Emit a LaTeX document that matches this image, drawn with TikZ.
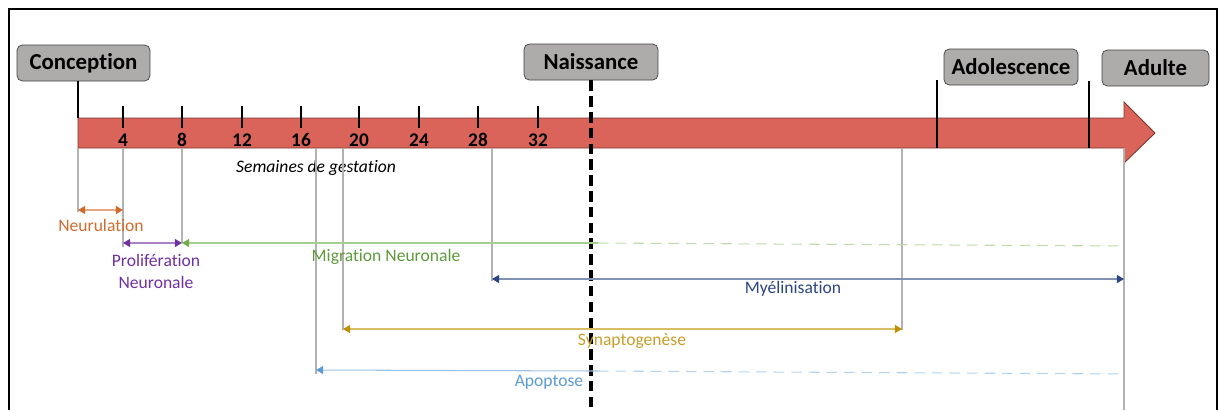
\documentclass[tikz,border=0pt]{standalone}
\usepackage{fontspec}
\setmainfont{Carlito}[RawFeature=-liga]
\usetikzlibrary{arrows.meta}
\definecolor{bandred}{HTML}{DA6459}
\definecolor{boxgray}{HTML}{AEABAB}
\definecolor{orng}{HTML}{D06B2B}
\definecolor{purp}{HTML}{7030A0}
\definecolor{grn}{HTML}{70AD47}
\definecolor{grntxt}{HTML}{5E9A3C}
\definecolor{navy}{HTML}{2B4582}
\definecolor{gold}{HTML}{BF9000}
\definecolor{goldtxt}{HTML}{C89E2A}
\definecolor{sky}{HTML}{5B9BD5}

\begin{document}
\begin{tikzpicture}[x=0.02cm, y=-0.02cm,
    stage/.style={draw=black!75, fill=boxgray, rounded corners=3pt, minimum height=0.72cm,
      inner sep=0pt, font=\fontsize{13}{15}\selectfont\bfseries},
    guide/.style={black!30, line width=0.6pt},
    lbl/.style={font=\fontsize{10}{12.5}\selectfont, align=center},
    bothway/.style={line width=0.6pt, #1!60,
      {Triangle[length=4pt,width=4.5pt,color=#1]}-{Triangle[length=4pt,width=4.5pt,color=#1]}},
    leftway/.style={line width=0.6pt, #1!60, {Triangle[length=4pt,width=4.5pt,color=#1]}-},
    laterway/.style={line width=0.6pt, #1!45, dash pattern=on 6pt off 4pt}]
    \useasboundingbox (0,0) rectangle (1219,410);
    \draw[line width=0.8pt] (9,410) -- (9,9) -- (1217,9) -- (1217,410);

    % time band
    \draw[fill=bandred, draw=bandred!55!black, line width=0.5pt]
      (78,118) -- (1124,118) -- (1124,102) -- (1155,133) -- (1124,163) -- (1124,148) -- (78,148) -- cycle;
    \coordinate (base) at (0,148);
    \coordinate (top) at (0,118);

    \foreach \w/\x in {4/123, 8/182, 12/242, 16/301, 20/359, 24/419, 28/478, 32/538} {
      \draw[line width=0.6pt] (\x,106) -- (\x,128);
      \node[font=\fontsize{11}{12}\selectfont\bfseries] (w\w) at (\x,140) {\w};
    }
    \node[font=\fontsize{10}{12}\selectfont\itshape] (sem) at (316,168) {Semaines de gestation};

    % stages
    \node[stage, minimum width=2.66cm] (conception) at (83.5,63) {Conception};
    \node[stage, minimum width=2.68cm] (naissance) at (591,62) {Naissance};
    \node[stage, minimum width=2.68cm] (adolescence) at (1011,67) {Adolescence};
    \node[stage, minimum width=2.14cm] (adulte) at (1155.5,68) {Adulte};

    \draw[line width=0.6pt] (conception.south -| 78,0) -- (78,118);
    \draw[line width=0.6pt] (937,80) -- (937,148);
    \draw[line width=0.6pt] (1089,81) -- (1089,148);
    \draw[line width=1.8pt, dash pattern=on 6pt off 3pt] (naissance.south) -- (591,410);

    % processes
    \coordinate (n0) at (78,210);   \coordinate (n1) at (123,210);
    \coordinate (p0) at (123,243);  \coordinate (p1) at (182,243);
    \coordinate (m0) at (182,243);  \coordinate (m1) at (598,243);  \coordinate (m2) at (1124,246);
    \coordinate (y0) at (492,279);  \coordinate (y1) at (1124,279);
    \coordinate (s0) at (343,329);  \coordinate (s1) at (902,329);
    \coordinate (a0) at (316,370);  \coordinate (a1) at (598,371);  \coordinate (a2) at (1124,374);

    \draw[guide] (n0 |- base) -- (78,212);
    \draw[guide] (n1 |- base) -- (123,247);
    \draw[guide] (p1 |- base) -- (p1);
    \draw[guide] (y0 |- base) -- (492,281);
    \draw[guide] (s0 |- base) -- (343,330);
    \draw[guide] (s1 |- base) -- (902,330);
    \draw[guide] (a0 |- base) -- (316,374);
    \draw[guide] (y1 |- base) -- (1124,410);

    \draw[bothway=orng] (n0) -- (n1);
    \node[lbl, text=orng] (neur) at (101,225) {Neurulation};

    \draw[bothway=purp] (p0) -- (p1);
    \node[lbl, text=purp] (prol) at (156,271) {Prolifération\\Neuronale};

    \draw[leftway=grn] (m0) -- (m1);
    \draw[laterway=grn] (m1) -- (m2);
    \node[lbl, text=grntxt] (migr) at (386,257) {Migration Neuronale};

    \draw[bothway=navy] (y0) -- (y1);
    \node[lbl, text=navy] (myel) at (793,289) {Myélinisation};

    \draw[bothway=gold] (s0) -- (s1);
    \node[lbl, text=goldtxt] (syn) at (632,341) {Synaptogenèse};

    \draw[leftway=sky] (a0) -- (a1);
    \draw[laterway=sky] (a1) -- (a2);
    \node[lbl, text=sky] (apo) at (549,382) {Apoptose};
\end{tikzpicture}
\end{document}
